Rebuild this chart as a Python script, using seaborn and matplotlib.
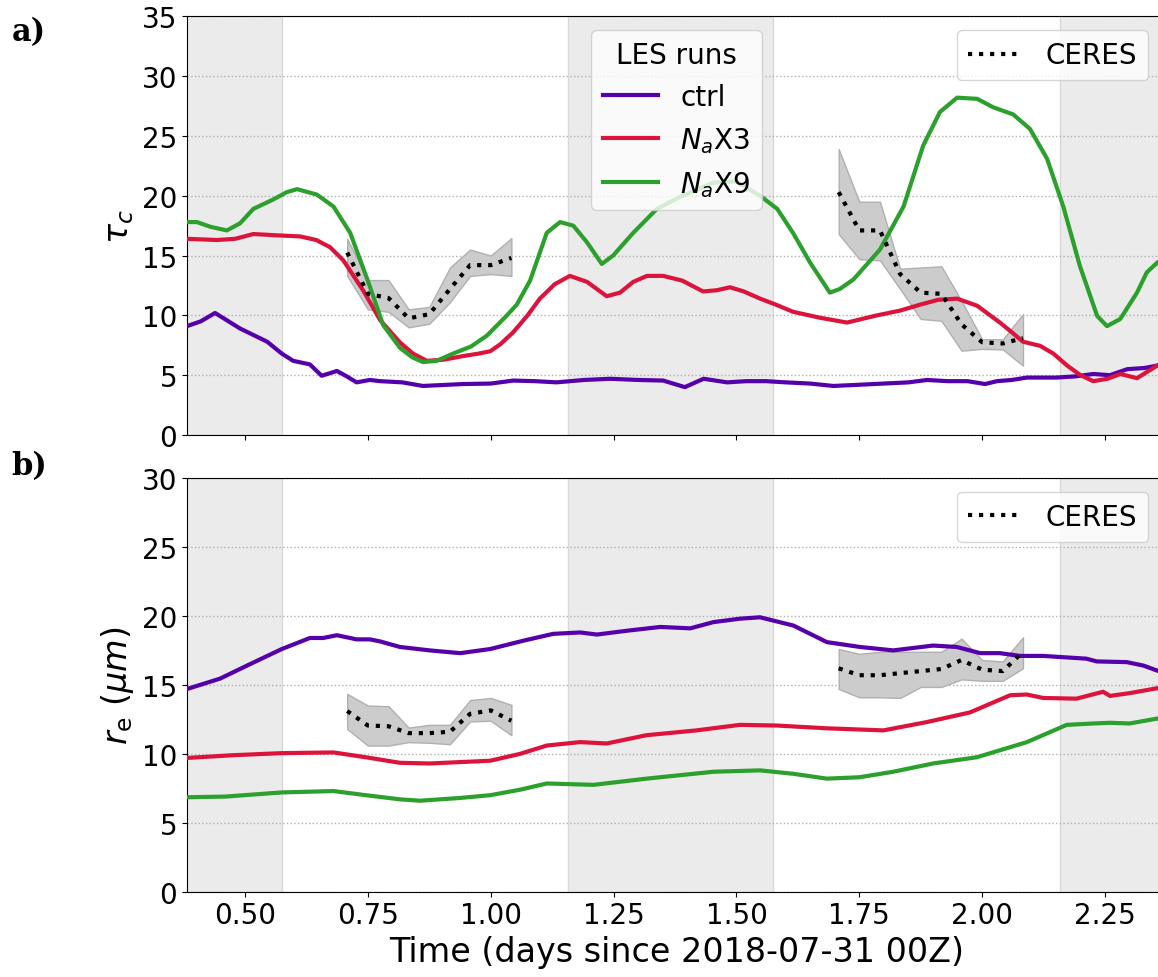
import numpy as np
import seaborn as sns
import matplotlib.pyplot as plt

# ---- LES runs, panel a (tau_c) ----
t_ctrl_tau = [0.382, 0.41, 0.439, 0.49, 0.545, 0.575, 0.598, 0.632, 0.656, 0.687, 0.707, 0.727,
              0.754, 0.775, 0.82, 0.862, 0.944, 1.0, 1.046, 1.09, 1.134, 1.19, 1.243, 1.30, 1.351,
              1.395, 1.433, 1.481, 1.52, 1.56, 1.60, 1.65, 1.697, 1.75, 1.80, 1.85, 1.888, 1.93,
              1.97, 2.006, 2.03, 2.06, 2.091, 2.15, 2.19, 2.226, 2.26, 2.295, 2.33, 2.356]
ctrl_tau = [9.1, 9.5, 10.2, 8.9, 7.8, 6.8, 6.2, 5.9, 4.95, 5.35, 4.9, 4.4,
            4.6, 4.5, 4.4, 4.1, 4.26, 4.3, 4.55, 4.5, 4.4, 4.6, 4.7, 4.6, 4.55,
            4.0, 4.7, 4.4, 4.5, 4.5, 4.4, 4.3, 4.1, 4.2, 4.3, 4.4, 4.6, 4.5,
            4.5, 4.26, 4.5, 4.6, 4.8, 4.8, 4.9, 5.1, 5.0, 5.5, 5.6, 5.8]

t_x3_tau = [0.382, 0.443, 0.48, 0.517, 0.56, 0.612, 0.645, 0.673, 0.70, 0.741, 0.775, 0.801,
            0.815, 0.842, 0.87, 0.905, 0.944, 0.975, 0.999, 1.02, 1.046, 1.075, 1.10, 1.13,
            1.161, 1.196, 1.236, 1.263, 1.29, 1.318, 1.351, 1.39, 1.432, 1.46, 1.487, 1.515,
            1.548, 1.58, 1.615, 1.67, 1.725, 1.786, 1.833, 1.874, 1.91, 1.949, 1.99, 2.036,
            2.06, 2.083, 2.118, 2.145, 2.173, 2.20, 2.226, 2.255, 2.281, 2.315, 2.356]
x3_tau = [16.4, 16.3, 16.4, 16.8, 16.7, 16.6, 16.3, 15.7, 14.6, 12.05, 9.6, 8.4,
          7.75, 6.8, 6.2, 6.3, 6.6, 6.8, 7.0, 7.6, 8.6, 10.0, 11.4, 12.6,
          13.3, 12.8, 11.6, 11.9, 12.8, 13.3, 13.3, 12.9, 12.0, 12.1, 12.35, 12.0,
          11.4, 10.9, 10.3, 9.8, 9.4, 10.0, 10.4, 10.9, 11.3, 11.4, 10.8, 9.4,
          8.6, 7.8, 7.45, 6.8, 5.8, 5.0, 4.5, 4.7, 5.1, 4.75, 5.8]

t_x9_tau = [0.382, 0.402, 0.43, 0.463, 0.49, 0.517, 0.558, 0.585, 0.606, 0.646, 0.68, 0.714,
            0.749, 0.781, 0.815, 0.84, 0.862, 0.89, 0.923, 0.96, 0.992, 1.033, 1.053, 1.08,
            1.114, 1.141, 1.168, 1.196, 1.226, 1.249, 1.29, 1.338, 1.385, 1.453, 1.50, 1.548,
            1.583, 1.615, 1.65, 1.69, 1.71, 1.738, 1.792, 1.84, 1.88, 1.914, 1.949, 1.99,
            2.022, 2.063, 2.097, 2.132, 2.165, 2.199, 2.234, 2.254, 2.281, 2.315, 2.335, 2.356]
x9_tau = [17.8, 17.8, 17.4, 17.1, 17.7, 18.9, 19.7, 20.3, 20.55, 20.1, 19.1, 16.9,
          13.0, 9.2, 7.3, 6.5, 6.1, 6.2, 6.8, 7.4, 8.3, 10.0, 10.9, 12.9,
          16.9, 17.8, 17.5, 16.1, 14.3, 15.0, 16.9, 18.9, 19.9, 21.1, 21.2, 20.0,
          18.9, 16.9, 14.4, 11.9, 12.2, 13.0, 15.5, 19.1, 24.2, 27.0, 28.2, 28.1,
          27.4, 26.8, 25.6, 23.1, 19.1, 14.1, 9.95, 9.1, 9.7, 11.9, 13.6, 14.4]

# ---- LES runs, panel b (r_e) ----
t_ctrl_re = [0.382, 0.449, 0.51, 0.575, 0.632, 0.659, 0.687, 0.727, 0.754, 0.775, 0.815, 0.876,
             0.938, 0.999, 1.066, 1.127, 1.182, 1.216, 1.283, 1.345, 1.406, 1.453, 1.507, 1.548,
             1.582, 1.616, 1.684, 1.751, 1.819, 1.9, 1.948, 1.996, 2.036, 2.077, 2.124, 2.212,
             2.233, 2.294, 2.328, 2.355]
ctrl_re = [14.7, 15.45, 16.5, 17.6, 18.4, 18.4, 18.6, 18.3, 18.3, 18.15, 17.75, 17.5,
           17.3, 17.6, 18.2, 18.7, 18.8, 18.65, 18.95, 19.2, 19.1, 19.55, 19.8, 19.9,
           19.6, 19.3, 18.1, 17.75, 17.5, 17.85, 17.75, 17.3, 17.3, 17.1, 17.1, 16.9,
           16.7, 16.65, 16.4, 16.05]

t_x3_re = [0.382, 0.476, 0.575, 0.68, 0.746, 0.815, 0.876, 0.999, 1.06, 1.114, 1.182, 1.236,
           1.317, 1.419, 1.507, 1.583, 1.684, 1.799, 1.887, 1.975, 2.057, 2.091, 2.124, 2.192,
           2.246, 2.26, 2.30, 2.355]
x3_re = [9.7, 9.9, 10.05, 10.1, 9.75, 9.35, 9.3, 9.5, 10.0, 10.6, 10.85, 10.75,
         11.35, 11.7, 12.1, 12.05, 11.85, 11.7, 12.3, 13.0, 14.25, 14.3, 14.05, 14.0,
         14.5, 14.2, 14.4, 14.75]

t_x9_re = [0.382, 0.46, 0.575, 0.68, 0.746, 0.815, 0.856, 0.938, 0.999, 1.06, 1.114, 1.209,
           1.317, 1.453, 1.548, 1.616, 1.684, 1.75, 1.819, 1.9, 1.989, 2.091, 2.172, 2.226,
           2.26, 2.30, 2.355]
x9_re = [6.85, 6.9, 7.2, 7.3, 7.0, 6.7, 6.6, 6.8, 7.0, 7.4, 7.85, 7.75,
         8.2, 8.7, 8.8, 8.55, 8.2, 8.3, 8.7, 9.3, 9.75, 10.85, 12.1, 12.2,
         12.25, 12.2, 12.55]

# ---- CERES retrievals (mean with min/max band) ----
t_ceres_a = [0.708, 0.750, 0.792, 0.833, 0.875, 0.917, 0.958, 1.000, 1.042]
t_ceres_b = [1.708, 1.750, 1.792, 1.833, 1.875, 1.917, 1.958, 2.000, 2.042, 2.083]

ceres_tau_a = [15.25, 11.8, 11.45, 9.75, 10.1, 12.2, 14.2, 14.2, 14.8]
ceres_tau_a_lo = [13.3, 10.5, 10.3, 9.0, 9.3, 11.1, 13.3, 13.45, 13.3]
ceres_tau_a_hi = [16.4, 12.95, 12.95, 10.5, 10.7, 14.0, 15.5, 15.0, 16.45]
ceres_tau_b = [20.3, 17.1, 17.1, 13.45, 11.9, 11.8, 9.25, 7.75, 7.65, 8.1]
ceres_tau_b_lo = [16.8, 14.7, 14.6, 12.2, 9.7, 9.55, 7.05, 7.2, 7.15, 5.8]
ceres_tau_b_hi = [23.9, 19.5, 19.5, 13.9, 14.0, 14.1, 11.2, 8.0, 8.0, 10.1]

ceres_re_a = [13.1, 12.05, 12.0, 11.5, 11.5, 11.6, 12.9, 13.15, 12.4]
ceres_re_a_lo = [11.8, 10.6, 10.6, 10.85, 10.8, 10.7, 12.35, 12.4, 11.35]
ceres_re_a_hi = [14.35, 13.5, 13.45, 11.9, 12.1, 12.1, 13.9, 14.05, 13.55]
ceres_re_b = [16.2, 15.7, 15.7, 15.85, 16.0, 16.15, 16.8, 16.1, 16.0, 17.4]
ceres_re_b_lo = [14.7, 14.1, 14.1, 14.05, 14.85, 14.85, 15.4, 15.3, 15.3, 16.2]
ceres_re_b_hi = [17.6, 17.25, 17.4, 17.4, 17.4, 17.4, 18.35, 16.8, 16.7, 18.45]

night_start = [0.158, 1.158, 2.158]
night_len = 0.417

run_names = ['ctrl', r'$N_a$X3', r'$N_a$X9']
run_colors = ['#5500aa', '#dc143c', '#2ca02c']
xticks = [0.50, 0.75, 1.00, 1.25, 1.50, 1.75, 2.00, 2.25]

fig = plt.figure(figsize=(11.58, 9.78), dpi=100)
ax1 = fig.add_axes([0.1615, 0.5542, 0.8454, 0.4281])
ax2 = fig.add_axes([0.1615, 0.0872, 0.8454, 0.4230])


def decorate(ax, ymax):
    for s in night_start:
        ax.axvspan(s, s + night_len, facecolor='#ebebeb', edgecolor='#d8d8d8', lw=1, zorder=0)
    ax.set_xlim(0.382, 2.374)
    ax.set_ylim(0, ymax)
    ax.set_yticks(np.arange(0, ymax + 1, 5))
    ax.set_xticks(xticks)
    ax.set_xticklabels([f'{v:.2f}' for v in xticks])
    ax.yaxis.grid(True, ls=':', color='#b0b0b0', lw=1)
    ax.tick_params(labelsize=20)
    ax.spines['right'].set_visible(False)


def draw(ax, les, ceres):
    handles = []
    for (t, v), name, c in zip(les, run_names, run_colors):
        sns.lineplot(x=t, y=v, color=c, lw=3, ax=ax, zorder=3, label=name)
        handles.append(ax.lines[-1])
    for t, m, lo, hi in ceres:
        ax.fill_between(t, lo, hi, facecolor='#cccccc', edgecolor='#b0b0b0', lw=1, zorder=2)
        sns.lineplot(x=t, y=m, color='k', lw=3, ls=':', ax=ax, zorder=4)
    ceres_h = ax.lines[-1]
    return handles, ceres_h


decorate(ax1, 35)
decorate(ax2, 30)

h1, c1 = draw(ax1,
              [(t_ctrl_tau, ctrl_tau), (t_x3_tau, x3_tau), (t_x9_tau, x9_tau)],
              [(t_ceres_a, ceres_tau_a, ceres_tau_a_lo, ceres_tau_a_hi),
               (t_ceres_b, ceres_tau_b, ceres_tau_b_lo, ceres_tau_b_hi)])
h2, c2 = draw(ax2,
              [(t_ctrl_re, ctrl_re), (t_x3_re, x3_re), (t_x9_re, x9_re)],
              [(t_ceres_a, ceres_re_a, ceres_re_a_lo, ceres_re_a_hi),
               (t_ceres_b, ceres_re_b, ceres_re_b_lo, ceres_re_b_hi)])

leg = ax1.legend(h1, run_names, loc='upper center', fontsize=20, title='LES runs',
                 title_fontsize=20)
ax1.add_artist(leg)
ax1.legend([c1], ['CERES'], loc='upper right', bbox_to_anchor=(0.996, 1.0), fontsize=20)
ax2.legend([c2], ['CERES'], loc='upper right', bbox_to_anchor=(0.996, 1.0), fontsize=20)

ax1.tick_params(labelbottom=False)
ax1.set_xlabel('')
ax1.set_ylabel(r'$\tau_c$', fontsize=24)
ax2.set_ylabel(r'$r_\mathrm{e}$ $(\mu m)$', fontsize=24)
ax2.set_xlabel('Time (days since 2018-07-31 00Z)', fontsize=24)

fig.text(0.01, 0.967, 'a)', fontsize=22, fontweight='bold', family='DejaVu Serif', va='center')
fig.text(0.01, 0.523, 'b)', fontsize=22, fontweight='bold', family='DejaVu Serif', va='center')

fig.savefig('out.png', dpi=100)
